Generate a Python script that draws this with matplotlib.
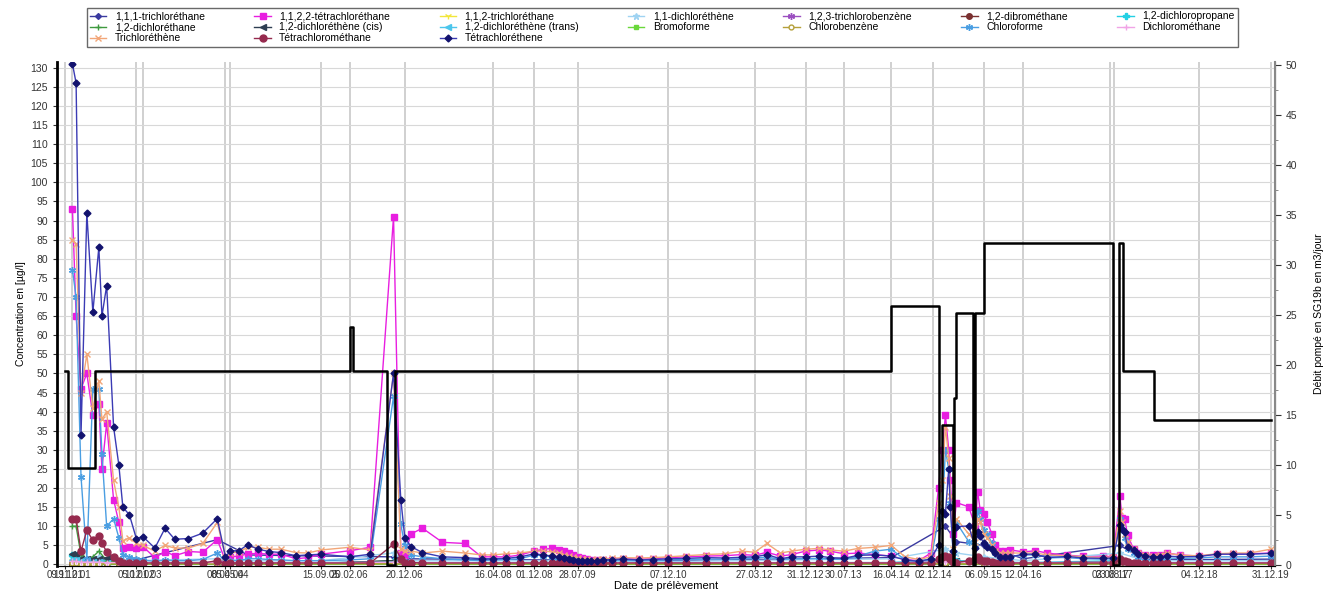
import numpy as np
import matplotlib.pyplot as plt
import matplotlib.ticker as mticker

plt.rcParams['font.family'] = ['Liberation Sans', 'DejaVu Sans']

# ------------------------ #
# DATA
# ------------------------ #

# sampling campaigns (all analyses share these dates)
sample_dates = [
    "2001-12-19", "2002-01-08", "2002-02-04", "2002-03-08", "2002-04-10",
    "2002-05-13", "2002-05-30", "2002-06-25", "2002-08-02", "2002-08-31",
    "2002-09-22", "2002-10-28", "2002-12-05", "2003-01-10", "2003-03-17",
    "2003-05-12", "2003-07-04", "2003-09-17", "2003-12-05", "2004-02-23",
    "2004-04-08", "2004-05-05", "2004-06-21", "2004-08-09",
    "2004-10-03", "2004-12-04", "2005-02-08", "2005-05-01", "2005-07-04",
    "2005-09-15", "2006-02-20", "2006-06-13", "2006-10-19", "2006-11-28",
    "2006-12-20", "2007-01-23", "2007-03-27", "2007-07-15",
    "2007-11-15", "2008-02-15", "2008-04-16", "2008-07-01", "2008-09-15",
    "2008-12-01", "2009-01-20", "2009-03-10", "2009-04-15", "2009-05-15",
    "2009-06-10", "2009-07-01", "2009-07-28", "2009-08-20", "2009-09-15",
    "2009-10-10", "2009-11-10", "2009-12-15", "2010-02-01", "2010-04-01",
    "2010-07-01", "2010-09-15", "2010-12-07", "2011-03-15", "2011-07-01",
    "2011-10-15", "2012-01-15", "2012-03-27", "2012-06-01", "2012-08-15",
    "2012-10-15", "2012-12-31", "2013-03-15", "2013-05-15", "2013-07-30",
    "2013-10-15", "2014-01-15", "2014-04-16", "2014-07-01", "2014-09-15",
    "2014-11-20",
    "2015-01-01", "2015-01-21", "2015-02-08", "2015-02-26", "2015-03-07",
    "2015-03-22", "2015-04-09", "2015-06-16", "2015-07-22", "2015-08-04",
    "2015-08-18", "2015-09-06", "2015-09-27", "2015-10-22", "2015-11-09",
    "2015-12-07", "2016-01-03", "2016-01-31", "2016-04-12", "2016-06-17",
    "2016-08-20", "2016-12-07", "2017-03-07", "2017-06-25", "2017-08-19",
    "2017-09-24", "2017-10-06", "2017-10-20", "2017-11-05", "2017-12-08",
    "2018-01-04", "2018-02-09", "2018-03-26", "2018-05-02", "2018-06-10",
    "2018-08-20", "2018-12-04", "2019-03-10", "2019-06-09", "2019-09-09",
    "2019-12-31",
]

# Tétrachloréthene
pce = [
    131, 126, 34, 92, 66, 83, 65, 73, 36, 26, 15, 13, 6.8, 7.3, 4.3, 9.5,
    6.6, 6.8, 8.2, 12, 2, 3.6, 3.6, 5.2,
    4, 3.4, 3.1, 2.3, 2.5, 2.7, 2, 2.7, 50, 17, 7, 4.7, 3.1, 2,
    1.8, 1.5, 1.5, 1.6, 2, 2.8, 2.5, 2.2, 2, 1.8, 1.5, 1.2, 1, 0.9, 0.8,
    0.9, 1, 1.2, 1.3, 1.4, 1.2, 1.3, 1.5, 1.6, 1.8, 1.7, 1.9, 2, 2.6, 1.5,
    2, 2, 2.2, 1.8, 1.6, 2.4, 2.5, 2.2, 1.2, 0.8, 1.5,
    5, 14, 13.2, 25, 15, 3.6, 9.9, 10.1, 4.4, 8.6, 7.5, 5.5, 4.6, 4, 3.1,
    2, 2, 2, 2.7, 2.7, 1.8, 2.1, 1.7, 1.6, 1.7, 10.3, 9.2, 8.4, 4.6, 3.8,
    2.7, 2.3, 2, 2, 2.2, 2, 2.1, 2.7, 2.7, 2.7, 2.9,
]

# 1,1,2,2-tétrachloréthane
teca = [
    93, 65, 46, 50, 39, 42, 25, 37, 17, 11, 4.3, 4.7, 4.4, 4.7, 1.8, 3.4,
    2.3, 3.4, 3.2, 6.5, 1, 2, 2.2, 2.8,
    2.9, 2.7, 2.7, 1.5, 1.8, 2.7, 3.6, 4.5, 91, 3, 2.5, 8, 9.5, 5.8,
    5.5, 2, 2, 2, 2.5, 3.5, 4, 4.2, 3.8, 3.5, 3, 2.5, 2, 1.6, 1.4,
    1.2, 1.2, 1.3, 1.3, 1.5, 1.4, 1.5, 1.8, 2, 2.2, 2.3, 2.6, 2.4, 3.2, 2.2,
    2.6, 3.5, 3.8, 3.5, 2.8, 3, 2.6, 2.2, 1.3, 1, 3,
    20, 30, 39, 30, 22, 8, 16.2, 15.1, 10, 19.1, 14.2, 13.2, 11, 7.9, 5,
    3.6, 3.6, 3.8, 3.3, 3.6, 3, 2.4, 2.2, 2.2, 2, 18, 12.1, 12, 7.8, 4,
    3, 2.5, 2.4, 2.6, 3, 2.5, 2.2, 2.7, 2.8, 2.8, 3,
]

# Trichloréthène
tce = [
    85, 84, 45, 55, 41, 48, 38, 40, 22, 15, 6.2, 7, 5.5, 5, 3.5, 5,
    4.3, 4.3, 5.5, 11, 2, 3, 3.3, 4.5,
    4.5, 4, 4, 3.1, 3, 3.8, 4.5, 3.8, 50, 4, 3.5, 3.5, 3, 3.5,
    3, 2.5, 2.5, 2.8, 3, 3.5, 3.5, 3.3, 3, 2.5, 2.2, 2, 1.8, 1.5, 1.4,
    1.3, 1.4, 1.5, 1.6, 1.8, 1.7, 1.8, 2, 2.3, 2.6, 2.8, 3.5, 3.2, 5.5, 3,
    3.5, 4, 4.2, 3.8, 3.5, 4.2, 4.5, 5, 2, 1.3, 2,
    16, 22, 36, 28, 18, 4, 12, 8, 6, 12, 11, 8, 7, 5, 3.5,
    3, 3, 3, 3, 3, 2.5, 2.3, 2, 1.8, 2, 14, 11, 8, 6, 4,
    3, 2.5, 2.3, 2.5, 3, 2.4, 2.3, 2.8, 3, 3, 4,
]

# Chloroforme
chloroforme = [
    77, 70, 23, 1.5, 46, 46, 29, 10, 12, 7, 2.5, 2, 1.5, 1.2, 0.8, 1.2,
    1, 1, 1.3, 3, 0.8, 1, 1, 1.5,
    1.5, 1.3, 1.2, 1, 1, 1, 1.2, 1.5, 44, 10.5, 5, 2.5, 2, 1.5,
    1.2, 1, 1.2, 1.3, 1.5, 2.5, 2.3, 2, 1.8, 1.6, 1.4, 1.2, 1, 0.9, 0.8,
    0.8, 0.9, 1, 1, 1.1, 1, 1.1, 1.2, 1.3, 1.4, 1.4, 1.5, 1.6, 2, 1.3,
    1.5, 1.5, 1.6, 1.4, 1.3, 2.2, 3.5, 4, 1.2, 0.8, 1.2,
    12, 13, 30, 25, 16, 3, 11, 6, 5, 14, 12, 9, 8, 5.5, 3,
    2, 2, 2, 2.5, 2.5, 2, 1.8, 1.5, 1.4, 1.5, 12, 9, 7, 4, 3,
    2, 1.8, 1.6, 1.6, 1.7, 1.6, 1.7, 2, 2, 2, 2.2,
]

# Tétrachlorométhane
ccl4 = [
    12, 12, 3.5, 9, 6.3, 7.5, 5.5, 3.4, 2, 1, 0.5, 0.4, 0.4, 0.4, 0.4, 0.4,
    0.4, 0.4, 0.4, 1, 0.2, 0.4, 0.4, 0.4,
    0.4, 0.4, 0.4, 0.4, 0.4, 0.4, 0.4, 0.4, 5.3, 1.5, 0.5, 0.5, 0.4, 0.4,
    0.4, 0.4, 0.4, 0.4, 0.4, 0.4, 0.4, 0.4, 0.4, 0.4, 0.4, 0.4, 0.4, 0.4, 0.4,
    0.4, 0.4, 0.4, 0.4, 0.4, 0.4, 0.4, 0.4, 0.4, 0.4, 0.4, 0.4, 0.4, 0.4, 0.4,
    0.4, 0.4, 0.4, 0.4, 0.4, 0.4, 0.4, 0.4, 0.4, 0.4, 0.4,
    1.5, 2, 2.2, 2, 1.5, 0.6, 0.5, 1, 1.5, 2, 1.3, 1, 0.8, 0.6, 0.5,
    0.4, 0.4, 0.4, 0.4, 0.4, 0.4, 0.4, 0.4, 0.4, 0.4, 1.5, 1, 0.8, 0.6, 0.5,
    0.4, 0.4, 0.4, 0.4, 0.4, 0.4, 0.4, 0.4, 0.4, 0.4, 0.4,
]

# the other compounds were only analysed on some campaigns
minor_idx = [0, 1, 2, 3, 4, 5, 7, 9, 12, 19, 23, 29, 32, 34, 44, 60, 75,
             81, 85, 90, 97, 104, 110, 119]

tca111 = [2.5, 2.5, 1.5, 1.5, 1.5, 1.8, 1.2, 1, 1.2, 6.5, 2.5, 2.2, 2, 1.5,
          1.2, 1, 1.8, 10, 6, 5, 1.5, 5, 1.2, 1.4]
tca112 = [0.8, 0.8, 0.5, 0.5, 0.5, 0.5, 0.4, 0.3, 0.3, 0.3, 0.3, 0.3, 0.6,
          0.3, 0.3, 0.3, 0.3, 0.8, 0.5, 0.4, 0.3, 0.5, 0.3, 0.3]
dce11 = [2, 2.5, 1.5, 1.2, 1.8, 2, 1.5, 1, 1, 1.5, 1, 1, 3, 1, 1, 0.8, 1.5,
         4, 3, 2, 1, 3, 1, 1]
tcb123 = [0.4, 0.4, 0.3, 0.3, 0.3, 0.3, 0.2, 0.2, 0.2, 0.2, 0.2, 0.2, 0.3,
          0.2, 0.2, 0.2, 0.2, 0.3, 0.2, 0.2, 0.2, 0.3, 0.2, 0.2]
dbm12 = [0.2, 0.2, 0.1, 0.1, 0.1, 0.1, 0.1, 0.1, 0.1, 0.1, 0.1, 0.1, 0.2,
         0.1, 0.1, 0.1, 0.1, 0.2, 0.1, 0.1, 0.1, 0.2, 0.1, 0.1]
dcp12 = [2.5, 2.5, 1, 1, 1, 1, 0.8, 0.6, 0.5, 0.5, 0.5, 0.5, 0.8, 0.5, 0.5,
         0.5, 0.5, 1.5, 1, 0.8, 0.5, 1, 0.5, 0.5]
dca12 = [10, 10, 2.5, 1.5, 2, 3.5, 1, 0.5, 0.3, 0.3, 0.2, 0.2, 1, 0.3, 0.2,
         0.2, 0.2, 0.5, 0.3, 0.3, 0.2, 0.3, 0.2, 0.2]
dce12_cis = [2.7, 2.7, 1.5, 1.5, 1.5, 1.5, 1.8, 1, 0.5, 0.5, 0.4, 0.3, 1,
             0.4, 0.3, 0.3, 0.3, 1, 0.8, 0.6, 0.3, 0.8, 0.3, 0.3]
dce12_trans = [1.2, 1.2, 0.8, 0.6, 0.6, 0.6, 0.5, 0.4, 0.3, 0.4, 0.3, 0.3,
               0.6, 0.3, 0.3, 0.3, 0.3, 0.8, 0.6, 0.5, 0.3, 0.6, 0.3, 0.3]
bromoforme = [0.2, 0.2, 0.1, 0.1, 0.1, 0.1, 0.1, 0.1, 0.1, 0.1, 0.1, 0.1,
              0.1, 0.1, 0.1, 0.1, 0.1, 0.2, 0.1, 0.1, 0.1, 0.1, 0.1, 0.1]
chlorobenzene = [0.3, 0.3, 0.2, 0.2, 0.2, 0.2, 0.2, 0.2, 0.2, 0.2, 0.2, 0.2,
                 0.2, 0.2, 0.2, 0.2, 0.2, 0.3, 0.2, 0.2, 0.2, 0.2, 0.2, 0.2]
dcm = [0.8, 0.8, 0.6, 0.6, 0.6, 0.6, 0.5, 0.5, 0.5, 0.5, 0.5, 0.5, 0.6, 0.5,
       0.5, 0.5, 0.5, 0.7, 0.6, 0.5, 0.5, 0.6, 0.5, 0.5]

# pumped flow at SG19b (m3/jour), step changes
flow_dates = [
    "2001-11-09", "2001-11-22", "2002-04-22", "2006-02-22", "2006-03-08",
    "2006-09-11", "2006-10-27", "2014-04-16", "2015-01-01", "2015-01-19",
    "2015-03-24", "2015-03-28", "2015-04-09", "2015-07-11", "2015-07-19",
    "2015-09-06", "2017-08-19", "2017-09-17", "2017-10-12", "2018-04-02",
    "2019-12-31",
]
flow_values = [19.4, 9.7, 19.4, 23.8, 19.4, 0, 19.4, 25.9, 0, 14.0, 0, 16.7,
               25.2, 0, 25.2, 32.2, 0, 32.2, 19.4, 14.5, 14.5]

tick_dates = [
    "2001-11-09", "2001-12-19", "2002-12-05", "2003-01-10", "2004-04-08",
    "2004-05-05", "2005-09-15", "2006-02-20", "2006-12-20", "2008-04-16",
    "2008-12-01", "2009-07-28", "2010-12-07", "2012-03-27", "2012-12-31",
    "2013-07-30", "2014-04-16", "2014-12-02", "2015-09-06", "2016-04-12",
    "2017-08-03", "2017-08-23", "2018-12-04", "2019-12-31",
]
tick_labels = [
    "09.11.01", "19.12.01", "05.12.02", "10.01.03", "08.04.04", "05.05.04",
    "15.09.05", "20.02.06", "20.12.06", "16.04.08", "01.12.08", "28.07.09",
    "07.12.10", "27.03.12", "31.12.12", "30.07.13", "16.04.14", "02.12.14",
    "06.09.15", "12.04.16", "03.08.17", "23.08.17", "04.12.18", "31.12.19",
]

# ------------------------ #
# PLOTTING
# ------------------------ #

t_all = np.array(sample_dates, dtype="datetime64[D]")
t_min = t_all[minor_idx]

# label, x, y, line colour, marker, marker size, marker face
series = [
    ("1,1,1-trichloréthane", t_min, tca111, "#3a3aa0", "D", 3, None),
    ("1,1,2,2-tétrachloréthane", t_all, teca, "#e81ee0", "s", 4.5, None),
    ("1,1,2-trichloréthane", t_min, tca112, "#f2e63a", "1", 5, None),
    ("1,1-dichloréthène", t_min, dce11, "#9fd3f2", "*", 5, None),
    ("1,2,3-trichlorobenzène", t_min, tcb123, "#9b4fc0", (6, 2, 0), 5, None),
    ("1,2-dibrométhane", t_min, dbm12, "#7a3030", "o", 4, None),
    ("1,2-dichloropropane", t_min, dcp12, "#22d0e4", "P", 4, None),
    ("1,2-dichloréthane", t_min, dca12, "#3f9a3f", "+", 5, None),
    ("1,2-dichloréthène (cis)", t_min, dce12_cis, "#2e3e52", "<", 4, None),
    ("1,2-dichloréthène (trans)", t_min, dce12_trans, "#4cc6ec", "<", 4, None),
    ("Bromoforme", t_min, bromoforme, "#6ad83a", "s", 3.5, None),
    ("Chlorobenzène", t_min, chlorobenzene, "#b5a03a", "o", 3.5, "white"),
    ("Chloroforme", t_all, chloroforme, "#4a9ee2", (6, 2, 0), 5, None),
    ("Dichlorométhane", t_min, dcm, "#f0a4e6", "+", 5, None),
    ("Trichloréthène", t_all, tce, "#f2a678", "x", 4, None),
    ("Tétrachlorométhane", t_all, ccl4, "#962a4e", "o", 5, None),
    ("Tétrachloréthene", t_all, pce, "#3b3bb4", "D", 3.5, "#12126e"),
]

fig = plt.figure(figsize=(13.35, 5.94), dpi=100)
ax = fig.add_axes([0.0427, 0.0471, 0.9124, 0.8485])
ax2 = ax.twinx()

handles = []
for label, x, y, color, marker, ms, mfc in series:
    face = mfc if mfc is not None else color
    edge = color if mfc != "#12126e" else "#12126e"
    h, = ax.plot(x, y, color=color, lw=1.0, marker=marker, ms=ms,
                 mfc=face, mec=edge, mew=1.0, label=label)
    handles.append(h)

# pumped flow on the secondary axis
ax2.step(np.array(flow_dates, dtype="datetime64[D]"), flow_values,
         where="post", color="black", lw=1.8)

ax.set_xlim(np.datetime64("2001-09-25"), np.datetime64("2020-01-25"))
ax.set_ylim(-0.4, 131.5)
ax2.set_ylim(-0.152, 50.25)

ax.set_yticks(np.arange(0, 131, 5))
ax2.set_yticks(np.arange(0, 51, 5))
ax2.yaxis.set_minor_locator(mticker.MultipleLocator(2.5))
ax.set_xticks(np.array(tick_dates, dtype="datetime64[D]"))
ax.set_xticklabels(tick_labels)

ax.tick_params(axis="x", labelsize=7, colors="#333333", length=2, pad=1)
ax.tick_params(axis="y", labelsize=7.5, colors="#333333", length=3)
ax2.tick_params(axis="y", labelsize=7.5, colors="#333333", length=4)
ax2.tick_params(axis="y", which="minor", length=2, colors="#777777")

ax.grid(axis="y", color="#d8d8d8", lw=0.8)
ax.grid(axis="x", color="#cdcdcd", lw=1.3)
ax.set_axisbelow(True)

ax.spines["top"].set_visible(False)
ax2.spines["top"].set_visible(False)
ax.spines["left"].set_linewidth(2.0)
ax.spines["left"].set_color("black")
ax.spines["bottom"].set_color("#555555")
ax2.spines["left"].set_visible(False)
ax2.spines["right"].set_color("#888888")
ax2.spines["right"].set_linewidth(1.5)

narrow = ["Liberation Sans Narrow", "Liberation Sans", "DejaVu Sans"]
ax.set_ylabel("Concentration en [µg/l]", fontsize=7.5, family=narrow,
              labelpad=3)
ax2.set_ylabel("Débit pompé en SG19b en m3/jour", fontsize=7.5, family=narrow,
               labelpad=12)
ax.set_xlabel("Date de prélèvement", fontsize=8, labelpad=0.5)

# row-wise ordering for the 7-column legend
order = [0, 7, 14, 1, 8, 15, 2, 9, 16, 3, 10, 4, 11, 5, 12, 6, 13]
leg = fig.legend([handles[i] for i in order],
                 [series[i][0] for i in order],
                 loc="upper center", bbox_to_anchor=(0.496, 0.995), ncol=7,
                 fontsize=7.5, frameon=True, fancybox=False,
                 edgecolor="#444444", handlelength=1.6, handletextpad=0.8,
                 columnspacing=4.75, borderpad=0.3, labelspacing=0.1)
leg.get_frame().set_linewidth(1.0)

fig.savefig("out.png", dpi=100)
